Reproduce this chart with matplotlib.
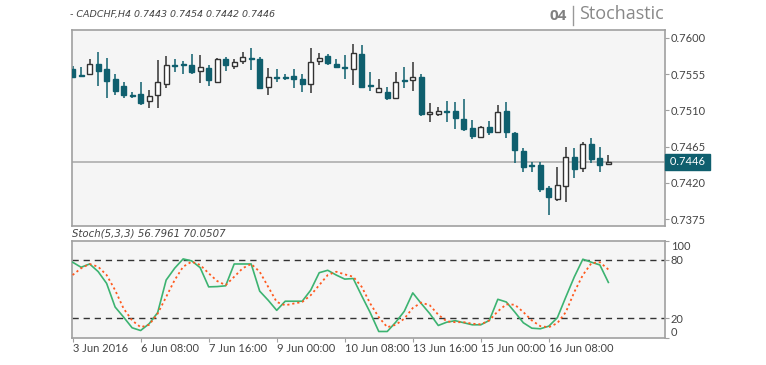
import matplotlib
matplotlib.use("Agg")
import matplotlib.pyplot as plt
import matplotlib.transforms as mtransforms
import numpy as np

# H4 candles, 3 Jun 2016 00:00 .. 17 Jun 2016 12:00
opens = [0.75620, 0.75543, 0.75550, 0.75682, 0.75620, 0.75484, 0.75404, 0.75295,
         0.75298, 0.75214, 0.75289, 0.75434, 0.75667, 0.75674, 0.75661, 0.75595,
         0.75628, 0.75454, 0.75736, 0.75653, 0.75711, 0.75751, 0.75744, 0.75392,
         0.75510, 0.75512, 0.75525, 0.75487, 0.75422, 0.75715, 0.75773, 0.75682,
         0.75636, 0.75620, 0.75806, 0.75419, 0.75330, 0.75330, 0.75260, 0.75481,
         0.75475, 0.75516, 0.75049, 0.75057, 0.75088, 0.75094, 0.74991, 0.74883,
         0.74771, 0.74888, 0.74833, 0.75094, 0.74821, 0.74594, 0.74426, 0.74420,
         0.74131, 0.73998, 0.74163, 0.74523, 0.74379, 0.74677, 0.74503, 0.7443]
highs = [0.75649, 0.75633, 0.75744, 0.75826, 0.75757, 0.75546, 0.75454, 0.75330,
         0.75454, 0.75351, 0.75723, 0.75773, 0.75744, 0.75711, 0.75798, 0.75785,
         0.75670, 0.75752, 0.75764, 0.75744, 0.75826, 0.75876, 0.75764, 0.75628,
         0.75620, 0.75546, 0.75620, 0.75546, 0.75876, 0.75819, 0.75798, 0.75744,
         0.75785, 0.75931, 0.75918, 0.75571, 0.75496, 0.75392, 0.75571, 0.75640,
         0.75702, 0.75546, 0.75186, 0.75144, 0.75218, 0.75206, 0.75236, 0.74979,
         0.74904, 0.74966, 0.75165, 0.75206, 0.74833, 0.74635, 0.74461, 0.74461,
         0.74163, 0.74399, 0.74647, 0.74627, 0.74702, 0.74759, 0.74640, 0.7454]
lows = [0.75506, 0.75531, 0.75537, 0.75404, 0.75248, 0.75289, 0.75248, 0.75248,
        0.75165, 0.75131, 0.75131, 0.75372, 0.75578, 0.75558, 0.75550, 0.75442,
        0.75404, 0.75447, 0.75590, 0.75620, 0.75682, 0.75608, 0.75363, 0.75289,
        0.75447, 0.75475, 0.75372, 0.75330, 0.75310, 0.75661, 0.75661, 0.75636,
        0.75496, 0.75413, 0.75380, 0.75339, 0.75326, 0.75227, 0.75239, 0.75380,
        0.75339, 0.75032, 0.74950, 0.75032, 0.74958, 0.74863, 0.74846, 0.74743,
        0.74759, 0.74793, 0.74826, 0.74759, 0.74441, 0.74330, 0.74330, 0.74089,
        0.73800, 0.73977, 0.73957, 0.74255, 0.74330, 0.74441, 0.74337, 0.7442]
closes = [0.75516, 0.75533, 0.75674, 0.75590, 0.75463, 0.75342, 0.75289, 0.75283,
          0.75193, 0.75280, 0.75454, 0.75670, 0.75655, 0.75661, 0.75578, 0.75633,
          0.75475, 0.75744, 0.75661, 0.75702, 0.75760, 0.75738, 0.75380, 0.75516,
          0.75497, 0.75500, 0.75491, 0.75434, 0.75702, 0.75757, 0.75690, 0.75640,
          0.75624, 0.75819, 0.75392, 0.75407, 0.75372, 0.75248, 0.75454, 0.75469,
          0.75516, 0.75053, 0.75082, 0.75094, 0.75075, 0.75000, 0.74863, 0.74784,
          0.74888, 0.74826, 0.75082, 0.74833, 0.74606, 0.74399, 0.74414, 0.74122,
          0.74019, 0.74172, 0.74516, 0.74367, 0.74681, 0.74495, 0.74420, 0.7446]

# Stochastic(5,3,3) main (%K) and signal (%D)
stoch_k = [77.6, 72.4, 75.8, 68.0, 55.8, 31.4, 21.0, 10.0, 7.2, 14.2, 25.6, 59.2,
           71.4, 81.0, 79.0, 72.0, 52.2, 52.5, 53.3, 75.8, 75.8, 75.8, 47.8, 38.4,
           28.0, 37.4, 37.4, 37.4, 48.8, 66.8, 69.3, 64.4, 60.2, 60.8, 42.9, 25.6,
           6.2, 6.2, 15.8, 27.0, 46.0, 35.0, 24.6, 12.4, 15.8, 17.3, 15.2, 13.1,
           13.1, 17.6, 39.4, 36.6, 26.2, 15.2, 9.6, 9.0, 11.7, 20.4, 41.8, 62.6,
           80.7, 77.6, 74.8, 56.8]
stoch_d = [64.4, 71.4, 75.8, 73.0, 64.4, 48.8, 29.8, 17.6, 10.6, 13.1, 24.6, 41.8,
           59.2, 73.0, 78.2, 74.8, 66.2, 58.2, 54.0, 62.6, 71.4, 75.8, 67.8, 52.2,
           36.6, 33.2, 35.0, 36.6, 43.6, 54.0, 64.4, 67.8, 65.1, 62.6, 52.2, 35.0,
           21.0, 10.6, 13.1, 19.4, 30.4, 36.0, 33.2, 23.5, 16.6, 15.8, 15.8, 14.2,
           13.6, 17.6, 27.0, 34.2, 33.8, 26.2, 17.6, 11.7, 10.6, 14.8, 26.2, 47.0,
           64.4, 76.6, 77.6, 70.1]

tick_idx = [0, 8, 16, 24, 32, 40, 48, 56]
tick_labels = ['3 Jun 2016', '6 Jun 08:00', '7 Jun 16:00', '9 Jun 00:00',
               '10 Jun 08:00', '13 Jun 16:00', '15 Jun 00:00', '16 Jun 08:00']
price_ticks = [0.7600, 0.7555, 0.7510, 0.7465, 0.7420, 0.7375]
last_price = 0.7446

TEAL = '#0f5f6e'
BG = '#f5f5f5'
SPINE = '#a0a0a0'
TXT = '#444444'
FONT = 'Lato'

W, H = 766, 365
fig = plt.figure(figsize=(W / 100, H / 100), dpi=100)
plt.rcParams['font.family'] = [FONT, 'DejaVu Sans']

def fx(px):
    return px / W

def fy(py):
    return 1 - py / H

ax = fig.add_axes([fx(72), fy(226), fx(664.5 - 72), fy(30) - fy(226)])
ax2 = fig.add_axes([fx(72), fy(337.5), fx(664.5 - 72), fy(240.5) - fy(337.5)])

for a in (ax, ax2):
    a.set_facecolor(BG)
    for s in a.spines.values():
        s.set_color(SPINE)
        s.set_linewidth(1.2)
    a.set_xlim(-0.07, 69.6)

# candles
x = np.arange(len(opens))
o = np.array(opens)
c = np.array(closes)
up = c >= o
cols = np.where(up, '#333333', TEAL)
ax.vlines(x, lows, highs, colors=cols, lw=1.1, zorder=2)
body_bot = np.minimum(o, c)
body_h = np.maximum(np.abs(c - o), 0.00004)
ax.bar(x[up], body_h[up], bottom=body_bot[up], width=0.6,
       facecolor='white', edgecolor='#333333', lw=1.0, zorder=3)
ax.bar(x[~up], body_h[~up], bottom=body_bot[~up], width=0.6,
       facecolor=TEAL, edgecolor=TEAL, lw=1.0, zorder=3)

ax.axhline(last_price, color='#a8a8a8', lw=1.1, zorder=1)
ax.set_ylim(0.73663, 0.76099)
ax.yaxis.tick_right()
ax.set_yticks(price_ticks)
ax.set_yticklabels(['%.4f' % p for p in price_ticks])
ax.tick_params(axis='y', length=3, width=0.8, color=SPINE, labelsize=8,
               labelcolor=TXT, pad=1.5)
ax.set_xticks([])

# last price tag on the right axis
trans = mtransforms.blended_transform_factory(ax.transAxes, ax.transData)
ax.annotate(' 0.7446 ', xy=(1.0, last_price), xycoords=trans,
            xytext=(1.6, 0), textcoords='offset points', ha='left', va='center',
            fontsize=8, color='white', zorder=5, annotation_clip=False,
            bbox=dict(boxstyle='square,pad=0.2', fc=TEAL, ec=TEAL))

# stochastic
ax2.plot(x, stoch_k, color='#3cb371', lw=1.2, zorder=3)
ax2.plot(x, stoch_d, color='#ff5a1f', lw=1.3, ls=(0, (1.2, 1.6)), zorder=3)
for lvl in (80, 20):
    ax2.axhline(lvl, color='#333333', lw=1.0, ls=(0, (4.5, 3.5)), zorder=2)
ax2.set_ylim(0, 100)
ax2.yaxis.tick_right()
ax2.set_yticks([100, 80, 20, 0])
ax2.set_yticklabels(['100', '80', '20', '0'])
ax2.tick_params(axis='y', length=3, width=0.8, color=SPINE, labelsize=8,
                labelcolor=TXT, pad=1.5)
ylabs = ax2.get_yticklabels()
ylabs[0].set_va('top')
ylabs[3].set_va('bottom')

ax2.set_xticks(tick_idx)
ax2.set_xticklabels(tick_labels, ha='left')
ax2.tick_params(axis='x', length=3, width=0.8, color=SPINE, labelsize=8,
                labelcolor=TXT, pad=1)

# header texts
fig.text(fx(70), fy(15), '- CADCHF,H4 0.7443 0.7454 0.7442 0.7446', fontsize=6.8,
         style='italic', color=TXT, va='center', ha='left', family='DejaVu Sans')
fig.text(fx(72), fy(233), 'Stoch(5,3,3) 56.7961 70.0507', fontsize=7.3,
         style='italic', color=TXT, va='center', ha='left', family='DejaVu Sans')
fig.text(fx(567), fy(16), '04', fontsize=11, fontweight='bold', color='#808080',
         va='center', ha='right', family='Open Sans')
fig.add_artist(plt.Line2D([fx(573), fx(573)], [fy(6), fy(25)], color='#999999', lw=1))
fig.text(fx(579), fy(14), 'Stochastic', fontsize=13, color='#888888',
         va='center', ha='left', family='Open Sans')

fig.savefig('out.png', dpi=100, facecolor='white')
